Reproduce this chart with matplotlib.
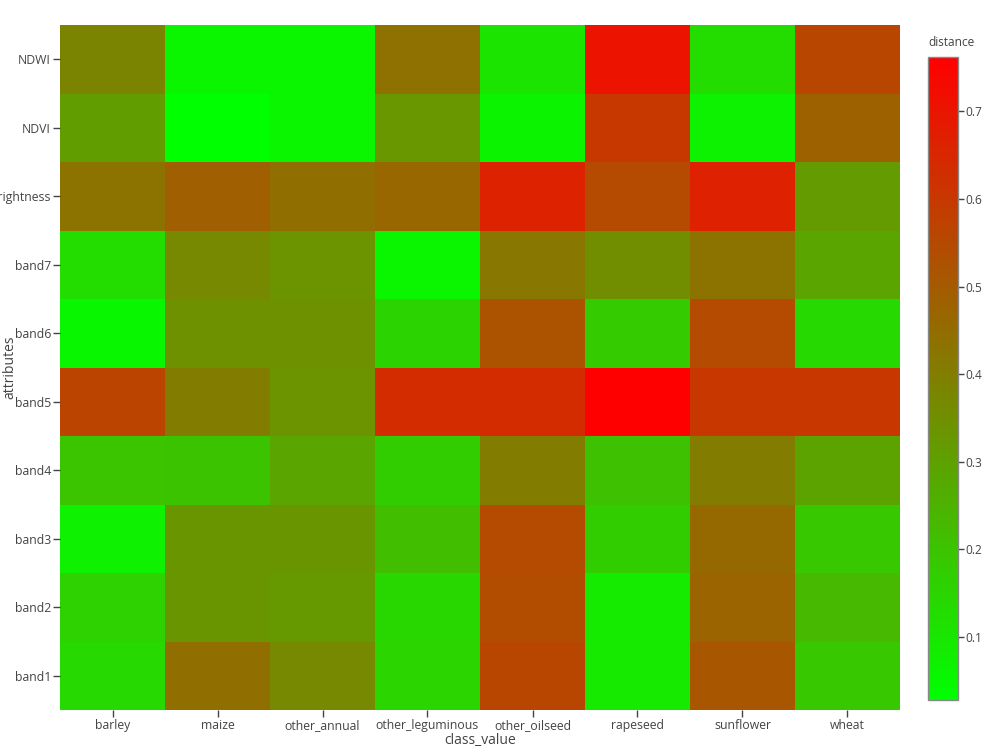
import matplotlib
matplotlib.use("Agg")
import matplotlib.pyplot as plt
import numpy as np
from matplotlib.colors import LinearSegmentedColormap

classes = ["barley", "maize", "other_annual", "other_leguminous",
           "other_oilseed", "rapeseed", "sunflower", "wheat"]
attributes = ["band1", "band2", "band3", "band4", "band5",
              "band6", "band7", "brightness", "NDVI", "NDWI"]

# distance values per attribute (rows, same order as attributes), columns = classes
band1 = [0.137, 0.446, 0.368, 0.149, 0.561, 0.091, 0.512, 0.186]
band2 = [0.158, 0.330, 0.322, 0.143, 0.541, 0.086, 0.474, 0.230]
band3 = [0.071, 0.330, 0.330, 0.215, 0.546, 0.172, 0.460, 0.186]
band4 = [0.195, 0.201, 0.287, 0.172, 0.402, 0.207, 0.402, 0.293]
band5 = [0.567, 0.402, 0.339, 0.633, 0.633, 0.762, 0.604, 0.604]
band6 = [0.051, 0.345, 0.345, 0.152, 0.523, 0.178, 0.546, 0.137]
band7 = [0.129, 0.368, 0.339, 0.057, 0.420, 0.353, 0.431, 0.287]
brightness = [0.431, 0.489, 0.446, 0.466, 0.662, 0.546, 0.667, 0.316]
NDVI = [0.310, 0.028, 0.057, 0.327, 0.065, 0.601, 0.068, 0.483]
NDWI = [0.382, 0.057, 0.057, 0.437, 0.106, 0.705, 0.129, 0.561]

Z = np.array([band1, band2, band3, band4, band5, band6, band7,
              brightness, NDVI, NDWI])

cmap = LinearSegmentedColormap.from_list("gr", [(0, 1, 0), (1, 0, 0)])

plt.rcParams['font.family'] = ['Open Sans', 'DejaVu Sans']
txt = "#444444"

fig = plt.figure(figsize=(10, 7.5), dpi=100)
ax = fig.add_axes([0.06, 1 - 710 / 750, 0.84, 685 / 750])
zmin, zmax = Z.min(), Z.max()
mesh = ax.pcolormesh(np.arange(len(classes) + 1) - 0.5,
                     np.arange(len(attributes) + 1) - 0.5,
                     Z, cmap=cmap, vmin=zmin, vmax=zmax)
ax.set_xlim(-0.5, len(classes) - 0.5)
ax.set_ylim(-0.5, len(attributes) - 0.5)
ax.set_xticks(range(len(classes)))
ax.set_xticklabels(classes)
ax.set_yticks(range(len(attributes)))
ax.set_yticklabels(attributes)
for s in ax.spines.values():
    s.set_visible(False)
ax.tick_params(axis='both', length=5, width=1, color="#444444",
               labelsize=8.8, labelcolor=txt, pad=1.5)
ax.set_xlabel("class_value", fontsize=10, color=txt)
ax.set_ylabel("attributes", fontsize=10, color=txt)
ax.xaxis.set_label_coords(0.5, (710 - 733) / 685)
ax.yaxis.set_label_coords((17 - 60) / 840, 0.5)

cax = fig.add_axes([0.928, 1 - 700 / 750, 0.03, 643 / 750])
cb = fig.colorbar(mesh, cax=cax, ticks=[0.1, 0.2, 0.3, 0.4, 0.5, 0.6, 0.7])
cb.outline.set_edgecolor("#888888")
cb.outline.set_linewidth(1)
cax.tick_params(length=4, width=1, color="#444444", labelsize=8.6,
                labelcolor=txt, pad=1)
cax.set_yticklabels(["0.1", "0.2", "0.3", "0.4", "0.5", "0.6", "0.7"])
fig.text(0.928, 1 - 43 / 750, "distance", fontsize=8.6, color=txt,
         ha="left", va="center")

fig.savefig("out.png", dpi=100)
